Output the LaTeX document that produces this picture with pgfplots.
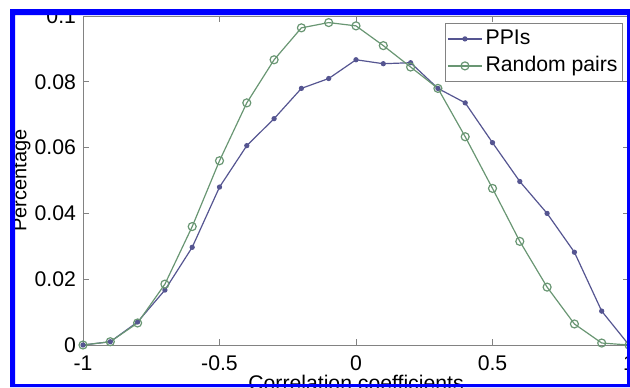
\documentclass[border=0pt]{standalone}
\usepackage{fontspec}
\setmainfont{Liberation Sans}
\usepackage{pgfplots}
\pgfplotsset{compat=1.18}
\definecolor{ppi}{RGB}{85,85,145}
\definecolor{rnd}{RGB}{105,150,115}
\definecolor{axgray}{RGB}{130,130,130}
\newcommand{\lblfont}{\fontsize{10.6}{12}\selectfont}
\begin{document}
\begin{tikzpicture}[x=1pt,y=1pt]
\path[use as bounding box] (0,0) rectangle (315,193.5);
\begin{scope}
\clip (0,0) rectangle (315,193.5);
\begin{axis}[
  at={(41.5pt,21pt)}, anchor=south west,
  scale only axis, width=273pt, height=164.5pt,
  xmin=-1, xmax=1, ymin=0, ymax=0.1,
  axis line style={axgray},
  tick style={axgray, line width=0.4pt},
  major tick length=3pt, tick align=inside,
  xtick={-1,-0.5,0,0.5,1},
  ytick={0,0.02,0.04,0.06,0.08,0.1},
  scaled y ticks=false,
  /pgf/number format/assume math mode=true,
  /pgf/number format/fixed,
  /pgf/number format/precision=2,
  ticklabel style={font=\lblfont},
  xticklabel style={yshift=-2pt},
  xlabel={Correlation coefficients},
  xlabel style={at={(axis description cs:0.5,-0.0912)}, anchor=north, inner sep=0pt, font=\lblfont},
  ylabel={Percentage},
  ylabel style={at={(axis description cs:-0.0952,0.5)}, anchor=south, inner sep=0pt, font=\fontsize{10}{12}\selectfont},
  legend entries={PPIs, Random pairs},
  legend cell align=left,
  legend style={at={(rel axis cs:1,1)}, anchor=north east, xshift=-3pt, yshift=-3.5pt,
    draw=axgray, font=\lblfont, inner sep=1pt,
    nodes={inner sep=1.5pt, text height=8pt, text depth=2.5pt}},
]
\addplot[color=ppi, line width=0.6pt, mark=*, mark size=1pt] coordinates {
(-1,0) (-0.9,0.001) (-0.8,0.007) (-0.7,0.0167) (-0.6,0.0297) (-0.5,0.048)
(-0.4,0.0606) (-0.3,0.0688) (-0.2,0.078) (-0.1,0.081) (0,0.0867)
(0.1,0.0855) (0.2,0.0858) (0.3,0.078) (0.4,0.0736) (0.5,0.0615)
(0.6,0.0497) (0.7,0.040) (0.8,0.0282) (0.9,0.0103) (1,0)};
\addplot[color=rnd, line width=0.6pt, mark=o, mark size=2pt] coordinates {
(-1,0) (-0.9,0.001) (-0.8,0.0067) (-0.7,0.0185) (-0.6,0.036) (-0.5,0.056)
(-0.4,0.0736) (-0.3,0.0867) (-0.2,0.0964) (-0.1,0.098) (0,0.097)
(0.1,0.091) (0.2,0.0845) (0.3,0.078) (0.4,0.0633) (0.5,0.0476)
(0.6,0.0315) (0.7,0.0176) (0.8,0.0064) (0.9,0.0006) (1,0)};
\end{axis}
\end{scope}
\fill[white, even odd rule] (0,0) rectangle (315,193.5) (5,0) rectangle (315,189);
\fill[blue, even odd rule] (5,0) rectangle (315,189) (7.5,1.5) rectangle (313.5,186);
\end{tikzpicture}
\end{document}
